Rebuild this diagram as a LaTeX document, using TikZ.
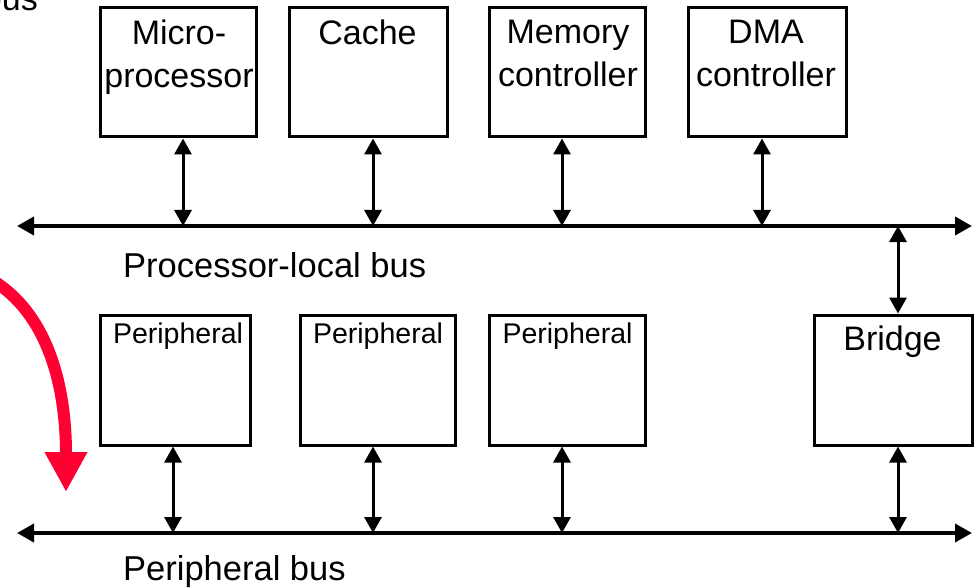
\documentclass[tikz,border=0pt]{standalone}
\usepackage{fontspec}
\setmainfont{Liberation Sans}
\usetikzlibrary{arrows.meta}
\definecolor{hotred}{RGB}{255,0,51}
\begin{document}
\begin{tikzpicture}[x=1pt,y=-1pt,
  box/.style={draw, line width=3pt, inner sep=0pt},
  topbox/.style={box, minimum height=129pt},
  botbox/.style={box, minimum height=130pt},
  lbl/.style={font=\fontsize{34}{43}\selectfont, align=center, inner sep=0pt, anchor=north},
  slbl/.style={font=\fontsize{28.5}{30}\selectfont, inner sep=0pt, anchor=north},
  buslbl/.style={font=\fontsize{34.5}{36}\selectfont, inner sep=0pt, anchor=base west},
  dbl/.style={line width=3pt, {Triangle[length=16pt,width=17pt]}-{Triangle[length=16pt,width=17pt]}},
  busline/.style={line width=3.8pt, {Triangle[length=17pt,width=18pt]}-{Triangle[length=17pt,width=18pt]}},
  bigarrow/.style={line width=12pt, hotred, -{Triangle[length=40pt,width=40pt]}}]
\useasboundingbox (0,0) rectangle (974,588);
\clip (0,0) rectangle (974,588);

% cut-off title text
\node[font=\fontsize{34}{36}\selectfont, inner sep=0pt, anchor=base east] (title) at (38,11) {bus};

% top row boxes
\node[topbox, minimum width=156pt] (mp) at (178,72.5) {};
\node[topbox, minimum width=158pt] (cache) at (368,72.5) {};
\node[topbox, minimum width=156pt] (mem) at (567,72.5) {};
\node[topbox, minimum width=158pt] (dma) at (767,72.5) {};
\node[lbl] (mpt) at (179,20) {Micro-\\processor};
\node[lbl] (cachet) at (367.5,20) {Cache};
\node[lbl] (memt) at (568,20) {Memory\\controller};
\node[lbl] (dmat) at (766,20) {DMA\\controller};

% bottom row boxes
\node[botbox, minimum width=150pt] (p1) at (175,380) {};
\node[botbox, minimum width=155pt] (p2) at (377.5,380) {};
\node[botbox, minimum width=156pt] (p3) at (567,380) {};
\node[botbox, minimum width=158pt] (br) at (893,380) {};
\node[slbl] (p1t) at (178,323) {Peripheral};
\node[slbl] (p2t) at (378,323) {Peripheral};
\node[slbl] (p3t) at (567.5,323) {Peripheral};
\node[lbl] (brt) at (892.5,326) {Bridge};

% buses
\coordinate (tl) at (17,226);
\coordinate (tr) at (972,226);
\coordinate (bl) at (17,533);
\coordinate (brr) at (972,533);
\draw[busline] (tl) -- (tr);
\draw[busline] (bl) -- (brr);
\node[buslbl] (plb) at (123,277) {Processor-local bus};
\node[buslbl] (pb) at (123,580) {Peripheral bus};

% taps on the processor-local bus
\coordinate (t1) at (183,226);
\coordinate (t2) at (373,226);
\coordinate (t3) at (562,226);
\coordinate (t4) at (762,226);
\coordinate (t5) at (898,226);
\draw[dbl] (t1 |- mp.south) -- (t1);
\draw[dbl] (t2 |- cache.south) -- (t2);
\draw[dbl] (t3 |- mem.south) -- (t3);
\draw[dbl] (t4 |- dma.south) -- (t4);
\draw[dbl] (t5) -- (t5 |- br.north);

% taps on the peripheral bus
\coordinate (u1) at (173,533);
\coordinate (u2) at (373,533);
\coordinate (u3) at (562,533);
\coordinate (u4) at (898,533);
\draw[dbl] (u1 |- p1.south) -- (u1);
\draw[dbl] (u2 |- p2.south) -- (u2);
\draw[dbl] (u3 |- p3.south) -- (u3);
\draw[dbl] (u4 |- br.south) -- (u4);

% red curved arrow
\coordinate (ra) at (-8,280);
\coordinate (rb) at (66,492);
\draw[bigarrow] (ra) .. controls (45,312) and (66,380) .. (rb);
\end{tikzpicture}
\end{document}
